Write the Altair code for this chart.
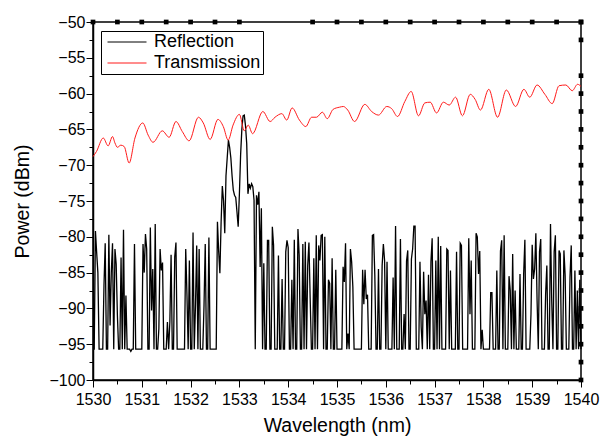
import altair as alt
import pandas as pd

F = -95.7  # noise floor of the reflection trace (dBm)

# Reflection spectrum, sampled every 0.025 nm from 1530 nm
refl_start = 1530.0
refl_step = 0.025
refl_power = [
    F, F, -79.2, -82.2, -85.0, F, F, F, F, -86.8,
    -80.9, F, F, -79.7, -92.4, -85.0, -80.9, F, -81.7, -83.8,
    -91.0, F, F, -82.9, F, -79.0, F, -88.2, F, F,
    F, -96.0, F, F, -81.0, F, F, F, F, F,
    F, -81.0, -85.0, -79.6, -81.7, F, F, -78.7, -90.3, -84.5,
    F, -78.2, F, F, -92.8, -81.7, -84.7, -83.6, F, F,
    F, -91.9, F, -91.9, -82.5, F, F, -82.8, -80.8, F,
    F, F, F, F, F, F, -81.7, -88.0, F, -83.3,
    F, F, -79.4, F, -89.6, -81.2, F, -81.7, F, F,
    F, -89.6, -81.0, F, F, -80.1, F, F, F, F,
    F, F, -77.9, -82.0, -85.1, -78.0, -72.9, -75.0, -79.5, -71.5,
    -69.0, -66.5, -67.5, -69.0, -71.5, -73.5, -74.2, -74.5, -76.5, -78.6,
    -74.0, -68.5, -65.0, -63.1, -63.0, -64.5, -67.0, -74.0, -72.6, -73.2,
    -72.6, -73.0, -74.9, F, -74.2, -75.5, -73.7, -84.2, -76.0, F,
    -83.7, F, F, -80.5, -80.5, F, F, -78.6, -81.2, F,
    F, F, -82.6, F, F, -85.9, F, F, -82.1, -80.5,
    -81.5, F, F, -86.0, F, -80.4, F, F, -78.9, -82.6,
    F, F, -81.0, F, -80.7, F, -84.0, -80.8, -88.5, F,
    F, -83.0, F, -79.8, F, -81.2, -83.3, -79.8, -79.7, F,
    -80.0, F, F, -86.0, -86.5, F, -83.0, F, F, -84.6,
    F, F, F, F, F, -84.2, -86.3, -80.9, F, -93.5,
    F, -81.7, -83.5, -87.0, F, F, F, F, F, F,
    F, -84.6, -89.4, -84.6, -88.7, -88.1, F, F, F, -79.8,
    -79.7, -85.4, F, F, -84.5, F, F, -84.0, -81.0, -83.3,
    F, -83.5, F, F, F, F, -85.7, F, -78.5, F,
    F, F, -80.3, F, F, -90.8, F, -83.4, -81.9, F,
    F, -83.1, -81.7, -78.5, -78.5, F, F, F, -83.5, -92.6,
    F, -84.9, -90.8, -88.9, F, -85.3, F, -83.5, -80.2, F,
    F, -83.3, F, -80.0, F, -81.3, F, F, F, F,
    -81.7, -81.9, F, -84.7, F, F, F, F, -82.1, F,
    F, -80.9, -81.2, F, F, F, F, F, -80.2, -90.8,
    -83.3, F, F, F, -79.5, -80.0, -85.2, -82.0, F, -93.0,
    F, F, F, F, F, F, -87.8, -87.8, F, F,
    F, -84.7, F, F, -82.0, -80.5, F, -79.8, F, F,
    F, -85.5, -87.5, F, -82.4, F, -87.5, F, F, F,
    -85.2, F, F, -85.2, -80.4, F, F, F, F, -90.8,
    -81.1, -85.9, -84.5, -79.5, -88.9, F, -82.1, -80.3, F, F,
    F, -88.0, -84.0, F, F, -78.2, -88.9, F, -82.1, -79.8,
    F, F, -81.9, -82.4, F, F, -81.9, -85.4, F, F,
    F, -85.6, -81.2, F, F, -84.7, F, -87.5, F, -86.0,
    F,
]

# Transmission spectrum (turning points)
trans_wl = [
    1530.00, 1530.07, 1530.21, 1530.31, 1530.40, 1530.45, 1530.50, 1530.57,
    1530.64, 1530.74, 1530.86, 1531.02, 1531.13, 1531.23, 1531.42, 1531.56,
    1531.70, 1531.83, 1531.97, 1532.16, 1532.26, 1532.40, 1532.56, 1532.67,
    1532.77, 1532.87, 1533.00, 1533.10, 1533.18, 1533.27, 1533.48, 1533.63,
    1533.73, 1533.87, 1533.97, 1534.08, 1534.23, 1534.36, 1534.48, 1534.58,
    1534.70, 1534.80, 1534.92, 1535.05, 1535.13, 1535.22, 1535.36, 1535.57,
    1535.71, 1535.85, 1536.02, 1536.12, 1536.24, 1536.39, 1536.52, 1536.67,
    1536.80, 1536.91, 1537.04, 1537.18, 1537.30, 1537.43, 1537.57, 1537.73,
    1537.83, 1537.94, 1538.11, 1538.29, 1538.47, 1538.66, 1538.83, 1538.95,
    1539.10, 1539.26, 1539.41, 1539.55, 1539.69, 1539.82, 1539.93, 1540.00,
]
trans_power = [
    -68.8, -68.1, -66.2, -67.3, -66.0, -66.9, -67.5, -67.2,
    -67.4, -69.7, -66.2, -64.1, -65.8, -66.8, -65.2, -66.1,
    -63.9, -65.3, -66.6, -63.3, -64.1, -66.4, -63.6, -64.6,
    -66.5, -64.4, -62.9, -65.2, -64.4, -65.6, -62.5, -63.9,
    -63.3, -62.8, -63.7, -62.0, -63.7, -64.6, -63.3, -63.3,
    -62.6, -63.5, -62.2, -61.9, -61.8, -62.3, -63.9, -61.5,
    -62.5, -63.0, -61.8, -62.1, -63.2, -61.1, -59.7, -63.1,
    -61.3, -61.2, -62.7, -61.2, -61.6, -60.5, -63.1, -60.1,
    -60.8, -62.3, -59.4, -63.3, -59.5, -61.8, -59.4, -60.5,
    -58.8, -60.1, -61.4, -58.9, -58.8, -59.6, -58.7, -59.0,
]

# Axis ticks and the square frame markers
x_ticks = [1530, 1530.5, 1531, 1531.5, 1532, 1532.5, 1533, 1533.5, 1534, 1534.5,
           1535, 1535.5, 1536, 1536.5, 1537, 1537.5, 1538, 1538.5, 1539, 1539.5, 1540]
y_ticks = [-100, -97.5, -95, -92.5, -90, -87.5, -85, -82.5, -80, -77.5, -75,
           -72.5, -70, -67.5, -65, -62.5, -60, -57.5, -55, -52.5, -50]
top_marks = [1530, 1530.5, 1531, 1531.5, 1532, 1532.5, 1533, 1534.5, 1535, 1535.5,
             1536, 1536.5, 1537, 1537.5, 1538, 1538.5, 1539, 1539.5, 1540]
right_marks = [-50, -52.5, -57.5, -60, -62.5, -65, -67.5, -70, -72.5, -75, -77.5,
               -80, -82.5, -85, -87.5, -90, -92.5, -95, -97.5, -100]

series_names = ["Reflection", "Transmission"]
series_colors = ["#000000", "#ff1a1a"]

refl_df = pd.DataFrame({
    "wl": [refl_start + refl_step * i for i in range(len(refl_power))],
    "pw": refl_power,
    "series": "Reflection",
})
trans_df = pd.DataFrame({"wl": trans_wl, "pw": trans_power, "series": "Transmission"})
top_df = pd.DataFrame({"wl": top_marks})
right_df = pd.DataFrame({"pw": right_marks})

FONT = "Liberation Sans"
W, H = 488, 358

xscale = alt.Scale(domain=[1530, 1540], nice=False, zero=False)
yscale = alt.Scale(domain=[-100, -50], nice=False, zero=False)

x_axis = alt.Axis(
    values=x_ticks,
    labelExpr="datum.value % 1 === 0 ? format(datum.value, 'd') : ''",
    tickSize={"condition": {"test": "datum.value % 1 === 0", "value": 7}, "value": 4},
    title="Wavelength (nm)", grid=False, labelPadding=4, titlePadding=9,
    labelFlush=False, labelOverlap=False,
)
y_axis = alt.Axis(
    values=y_ticks,
    labelExpr="datum.value % 5 === 0 ? replace(format(datum.value, 'd'), '-', '\u2212') : ''",
    tickSize={"condition": {"test": "datum.value % 5 === 0", "value": 7}, "value": 4},
    title="Power (dBm)", grid=False, labelPadding=1, titlePadding=16,
    labelFlush=False, labelOverlap=False,
)

color = alt.Color(
    "series:N",
    scale=alt.Scale(domain=series_names, range=series_colors),
    legend=alt.Legend(
        title=None, orient="none", legendX=8, legendY=9,
        symbolType="M-0.9,0H6.9", symbolSize=100, symbolStrokeWidth=1,
        labelFont=FONT, labelFontSize=18, labelColor="black", labelOffset=33,
        strokeColor="black", fillColor="white", padding=2, rowPadding=3,
    ),
)

refl = alt.Chart(refl_df).mark_line(strokeWidth=1.3).encode(
    x=alt.X("wl:Q", scale=xscale, axis=x_axis),
    y=alt.Y("pw:Q", scale=yscale, axis=y_axis),
    color=color,
)
trans = alt.Chart(trans_df).mark_line(strokeWidth=1, interpolate="monotone").encode(
    x=alt.X("wl:Q", scale=xscale, axis=x_axis),
    y=alt.Y("pw:Q", scale=yscale, axis=y_axis),
    color=color,
)
top = alt.Chart(top_df).mark_square(size=22, color="black", opacity=1).encode(
    x=alt.X("wl:Q", scale=xscale, axis=x_axis),
    y=alt.value(0),
)
right = alt.Chart(right_df).mark_square(size=22, color="black", opacity=1).encode(
    x=alt.value(W),
    y=alt.Y("pw:Q", scale=yscale, axis=y_axis),
)

chart = alt.layer(refl, trans, top, right).properties(
    width=W, height=H,
    background="white",
    autosize=alt.AutoSizeParams(type="none"),
    padding={"left": 93, "top": 22, "right": 20, "bottom": 56},
).configure_view(
    stroke="black", strokeWidth=1.5,
).configure_axis(
    labelOverlap=False, labelFlush=False,
    labelFont=FONT, labelFontSize=16, labelColor="black",
    titleFont=FONT, titleFontSize=19.5, titleFontWeight="normal", titleColor="black",
    domainColor="black", domainWidth=1.5, tickColor="black", tickWidth=1,
)

chart.save("out.html", embed_options={"renderer": "svg", "actions": False})
